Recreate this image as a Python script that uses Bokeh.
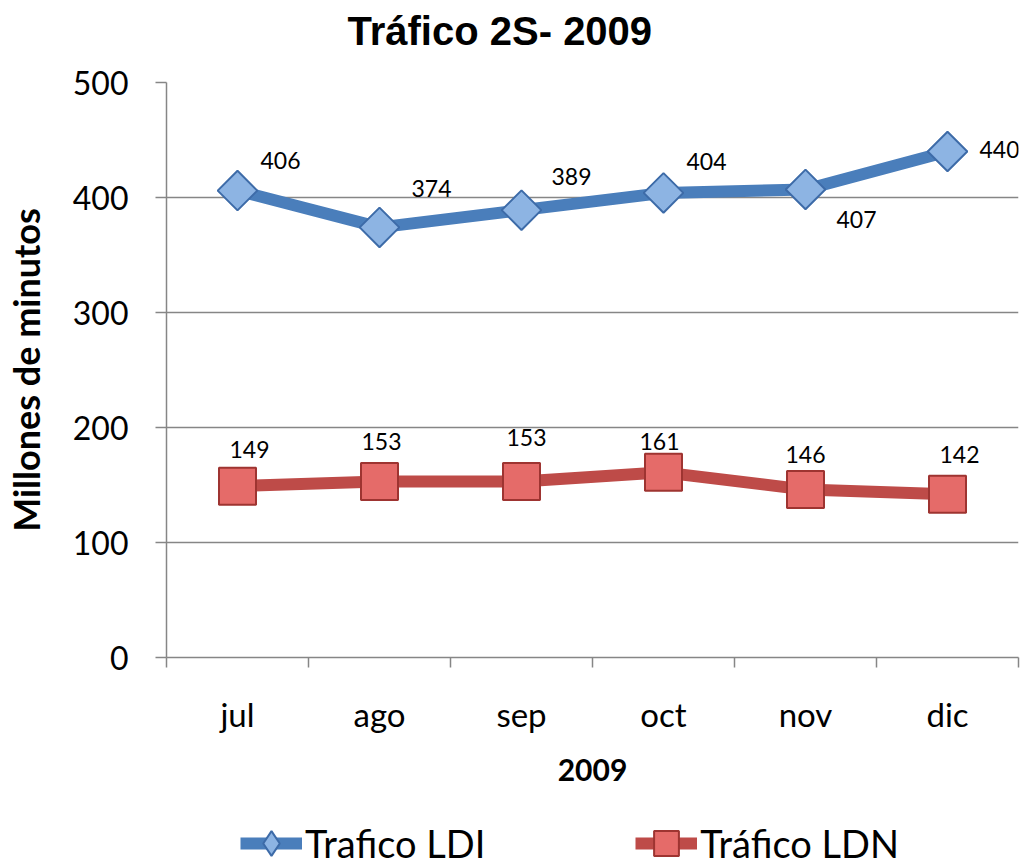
from bokeh.plotting import figure
from bokeh.layouts import column
from bokeh.models import (ColumnDataSource, LabelSet, Label, FixedTicker, Legend, LegendItem)
from bokeh.core.properties import value
from bokeh.embed import file_html
from bokeh.resources import INLINE
import math

# ---- data ----
months = ["jul", "ago", "sep", "oct", "nov", "dic"]
ldi = [406, 374, 389, 404, 407, 440]
ldn = [149, 153, 153, 161, 146, 142]
y_ticks = [0, 100, 200, 300, 400, 500]
series_names = ["Trafico LDI", "Tráfico LDN"]
title_text = "Tráfico 2S- 2009"

# ---- label placement (screen px offsets, styling only) ----
ldi_dx = [43, 52, 50, 43, 51, 52]
ldi_dy = [30, 39, 34, 31, -30, 2]
ldn_dx = [12, 2, 5, -4, 0, 12]
ldn_dy = [37, 40, 44, 31, 35, 40]

xs = [i + 0.5 for i in range(len(months))]

FONT = "Lato"
GRAY = "#868686"
BLUE = "#4A7EBB"
RED = "#BE4B48"
DIAMOND_FILL, DIAMOND_LINE = "#8DB4E3", "#3D6BA8"
SQUARE_FILL, SQUARE_LINE = "#E56B69", "#9E3431"

W, H_TITLE, H_MAIN, H_LEG = 1021, 60, 740, 61

# ---- title strip ----
top = figure(width=W, height=H_TITLE, output_backend="svg", toolbar_location=None,
             x_range=(0, len(months)), y_range=(0, 1),
             x_axis_location=None, y_axis_location=None, min_border=0)
top.outline_line_color = None
top.grid.grid_line_color = None
top.add_layout(Label(x=181, y=30, x_units="screen", y_units="screen", text=title_text,
                     text_font="Liberation Sans", text_font_size="40px",
                     text_font_style="bold", text_color="black",
                     text_align="left", text_baseline="middle"))

# ---- main chart ----
p = figure(width=W, height=H_MAIN, output_backend="svg", toolbar_location=None,
           x_range=(0, len(months)), y_range=(0, 500),
           min_border_left=166, min_border_right=3, min_border_top=22,
           min_border_bottom=143)
p.outline_line_color = None
p.background_fill_color = "white"

# y axis
ya = p.yaxis[0]
ya.ticker = FixedTicker(ticks=y_ticks)
ya.axis_label = "Millones de minutos"
ya.axis_label_text_font = FONT
ya.axis_label_text_font_size = "36px"
ya.axis_label_text_font_style = "bold"
ya.axis_label_text_color = "black"
ya.axis_label_standoff = 22
ya.major_label_text_font = FONT
ya.major_label_text_font_size = "32px"
ya.major_label_text_color = "black"
ya.major_label_standoff = 27
ya.major_tick_out = 11
ya.major_tick_in = 0
ya.minor_tick_out = 0
ya.minor_tick_in = 0
ya.axis_line_color = GRAY
ya.axis_line_width = 1.5
ya.major_tick_line_color = GRAY
ya.major_tick_line_width = 1.5

# x axis
xa = p.xaxis[0]
xa.ticker = FixedTicker(ticks=xs, minor_ticks=list(range(len(months) + 1)))
xa.major_label_overrides = {x: m for x, m in zip(xs, months)}
xa.axis_label = "2009"
xa.axis_label_text_font = FONT
xa.axis_label_text_font_size = "30px"
xa.axis_label_text_font_style = "bold"
xa.axis_label_text_color = "black"
xa.axis_label_standoff = 22
xa.major_label_text_font = FONT
xa.major_label_text_font_size = "33px"
xa.major_label_text_color = "black"
xa.major_label_standoff = 26
xa.major_tick_out = 0
xa.major_tick_in = 0
xa.minor_tick_out = 10
xa.minor_tick_in = 0
xa.minor_tick_line_color = GRAY
xa.minor_tick_line_width = 1.5
xa.axis_line_color = GRAY
xa.axis_line_width = 1.5

p.xgrid.grid_line_color = None
p.ygrid.grid_line_color = GRAY
p.ygrid.grid_line_width = 1.3
p.ygrid.ticker = FixedTicker(ticks=y_ticks[1:])

src_ldi = ColumnDataSource(dict(x=xs, y=ldi, t=[str(v) for v in ldi], dx=ldi_dx, dy=ldi_dy))
src_ldn = ColumnDataSource(dict(x=xs, y=ldn, t=[str(v) for v in ldn], dx=ldn_dx, dy=ldn_dy))

p.line("x", "y", source=src_ldi, line_color=BLUE, line_width=12, line_join="round")
p.scatter("x", "y", source=src_ldi, marker="square", angle=math.pi / 4, size=28,
          fill_color=DIAMOND_FILL, line_color=DIAMOND_LINE, line_width=2)
p.line("x", "y", source=src_ldn, line_color=RED, line_width=12, line_join="round")
p.scatter("x", "y", source=src_ldn, marker="square", size=37,
          fill_color=SQUARE_FILL, line_color=SQUARE_LINE, line_width=2)

for src in (src_ldi, src_ldn):
    p.add_layout(LabelSet(x="x", y="y", text="t", source=src, x_offset="dx", y_offset="dy",
                          text_font=value(FONT), text_font_size="23px", text_color="black",
                          text_align="center", text_baseline="middle"))

# ---- legend strip (separate canvas under the chart) ----
leg = figure(width=W, height=H_LEG, output_backend="svg", toolbar_location=None,
             x_range=(0, len(months)), y_range=(1000, 1001),
             x_axis_location=None, y_axis_location=None, min_border=0)
leg.outline_line_color = None
leg.grid.grid_line_color = None
k1 = leg.line("x", "y", source=src_ldi, line_color=BLUE, line_width=12)
d1 = leg.scatter("x", "y", source=src_ldi, marker="diamond",
                 fill_color=DIAMOND_FILL, line_color=DIAMOND_LINE, line_width=2)
k2 = leg.line("x", "y", source=src_ldn, line_color=RED, line_width=12)
d2 = leg.scatter("x", "y", source=src_ldn, marker="square",
                 fill_color=SQUARE_FILL, line_color=SQUARE_LINE, line_width=2)

legend = Legend(items=[LegendItem(label=series_names[0], renderers=[k1, d1]),
                       LegendItem(label=series_names[1], renderers=[k2, d2])],
                orientation="horizontal", location=(74, -17))
legend.label_text_font = FONT
legend.label_text_font_size = "38px"
legend.label_text_color = "black"
legend.glyph_width = 62
legend.glyph_height = 70
legend.spacing = 150
legend.label_standoff = 3
legend.border_line_color = None
legend.background_fill_alpha = 0
legend.padding = 0
legend.margin = 0
leg.add_layout(legend, "center")

layout = column(top, p, leg, spacing=0)
open("out.html", "w").write(file_html(layout, INLINE))
